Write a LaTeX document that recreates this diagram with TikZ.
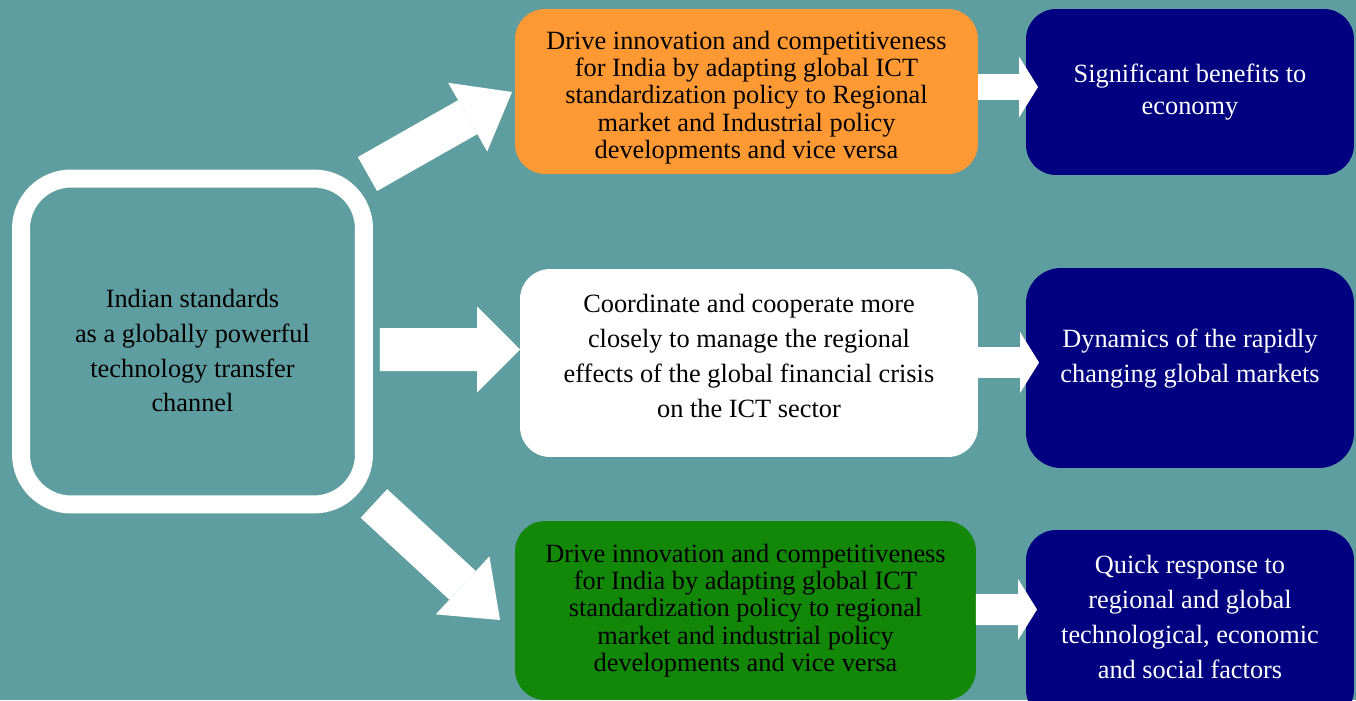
\documentclass[tikz,border=0pt]{standalone}
\usepackage{fontspec}
\setmainfont{Liberation Serif}
\usetikzlibrary{arrows.meta,calc,positioning}
\definecolor{hgTeal}{RGB}{95,158,160}
\definecolor{safran}{RGB}{255,153,51}
\definecolor{indGruen}{RGB}{19,136,8}
\definecolor{marine}{RGB}{0,0,128}

\begin{document}
\begin{tikzpicture}[x=0.02cm,y=-0.02cm,
  kasten/.style={rectangle,rounded corners=0.6cm,outer sep=0pt,align=center,
    font=\fontsize{15}{19.9}\selectfont},
  txt/.style={align=center,font=\fontsize{15}{19.9}\selectfont},
  eng/.style={font=\fontsize{15}{15.6}\selectfont},
  blau/.style={kasten,fill=marine,text=white,minimum width=6.56cm},
  pfeil/.style={white,line width=0.78cm,-{Triangle[width=1.58cm,length=1.02cm,line width=0pt]}},
  kpfeil/.style={white,line width=#1,-{Triangle[width=1.22cm,length=0.38cm,line width=0pt]}}]
%Hintergrund, 1 Einheit = 1 Pixel
\fill[hgTeal] (0,0) rectangle (1356,700);
\useasboundingbox (0,0) rectangle (1356,700);
\node[kasten,draw=white,line width=0.36cm,rounded corners=1cm,fill=hgTeal,
  minimum width=6.86cm,minimum height=6.52cm] (lb) at (192.5,341.5) {};
\node[txt] (lbt) at ($(lb)+(0,9)$)
  {Indian standards\\as a globally powerful\\technology transfer\\channel};
\node[kasten,fill=safran,minimum width=9.26cm,minimum height=3.3cm] (ob) at (746.5,91.5) {};
\node[txt,eng] (obt) at ($(ob)+(0,6)$)
  {Drive innovation and competitiveness\\for India by adapting global ICT\\standardization policy to Regional\\market and Industrial policy\\developments and vice versa};
\node[kasten,fill=white,minimum width=9.16cm,minimum height=3.76cm] (wb) at (749,363) {};
\node[txt] (wbt) at ($(wb)+(0,-7)$)
  {Coordinate and cooperate more\\closely to manage the regional\\effects of the global financial crisis\\on the ICT sector};
\node[kasten,eng,fill=indGruen,minimum width=9.22cm,minimum height=3.58cm] (gb) at (745.5,610.5)
  {Drive innovation and competitiveness\\for India by adapting global ICT\\standardization policy to regional\\market and industrial policy\\developments and vice versa};
\node[blau,font=\fontsize{15}{18.2}\selectfont,minimum height=3.32cm] (n1) at (1190,92)
  {Significant benefits to\\economy};
\node[blau,rounded corners=0.7cm,minimum height=4cm] (n2) at (1190,368) {};
\node[txt,text=white] (n2t) at ($(n2)+(0,-9)$)
  {Dynamics of the rapidly\\changing global markets};
\node[blau,minimum height=3.8cm] (n3) at (1190,625) {};
\node[txt,text=white] (n3t) at ($(n3)+(0,-8)$)
  {Quick response to\\regional and global\\technological, economic\\and social factors};
%Pfeile links
\draw[pfeil] ($(lb.north east)+(3.5,-4.5)$) -- ($(ob.west)+(-3,0.5)$);
\draw[pfeil,line width=0.86cm,-{Triangle[width=1.72cm,length=0.86cm,line width=0pt]}]
  ($(lb.east)+(16,8)$) -- ($(wb.west)+(0,-13.5)$);
\draw[pfeil] ($(lb.south east)+(10,-1)$) -- ($(gb.west)+(-15,9.5)$);
%Pfeile rechts
\draw[kpfeil=0.52cm] ($(ob.east)+(0,-4.5)$) -- ($(n1.west)+(12,-5)$);
\draw[kpfeil=0.62cm] ($(wb.east)+(0,-0.5)$) -- ($(n2.west)+(13,-5.5)$);
\draw[kpfeil=0.62cm] ($(gb.east)+(0,-1)$) -- ($(n3.west)+(11,-15.5)$);
\end{tikzpicture}
\end{document}
